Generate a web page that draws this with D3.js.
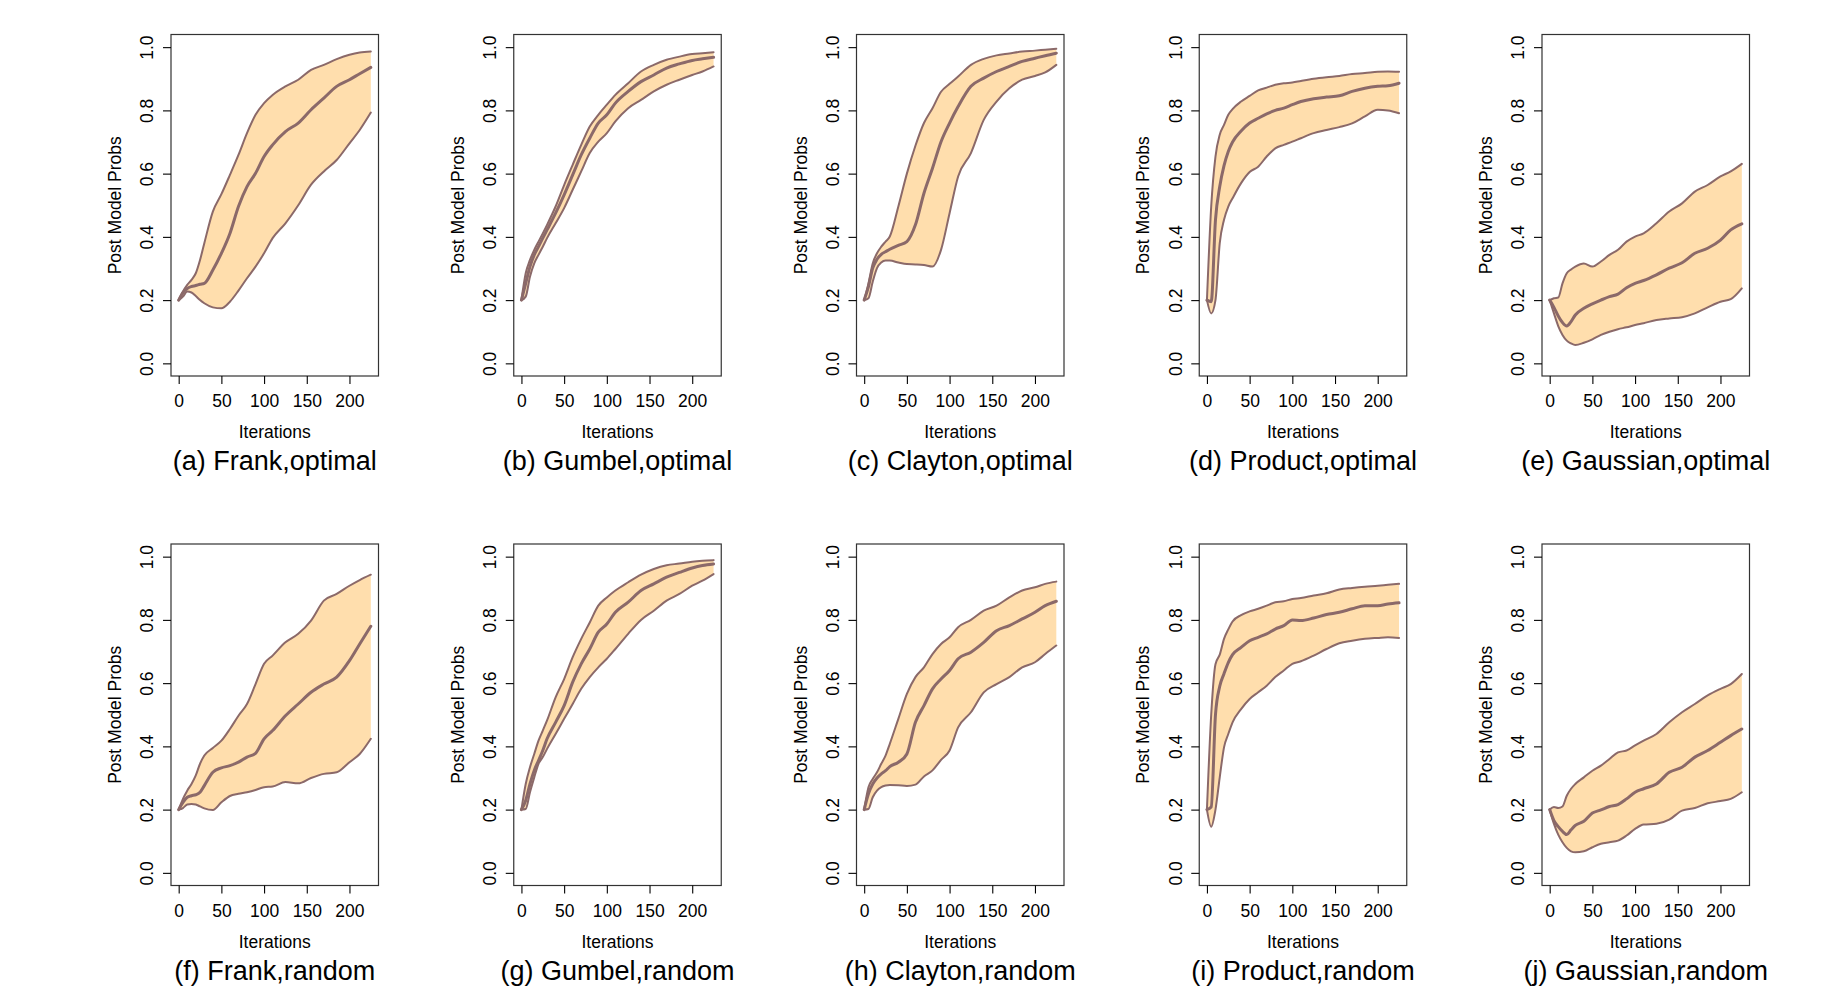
<!DOCTYPE html>
<html>
<head>
<meta charset="utf-8">
<script src="https://cdn.jsdelivr.net/npm/d3@7"></script>
<style>
  body { margin: 0; background: #fff; }
  text { font-family: "Liberation Sans", Arial, Helvetica, sans-serif; fill: #000; }
</style>
</head>
<body>
<script>
"use strict";
(function(){
  // iteration grid the values were read at
  const iterations = [0,5,10,15,20,25,30,40,50,60,70,80,90,100,110,125,140,155,170,185,200,212,225];
  const yTicks = [0, 0.2, 0.4, 0.6, 0.8, 1.0];
  const xTicks = [0, 50, 100, 150, 200];

  // (a) Frank, optimal
  const frankOptUp  = [0.2,0.227,0.248,0.264,0.285,0.327,0.38,0.48,0.535,0.596,0.659,0.728,0.786,0.823,0.849,0.876,0.897,0.928,0.944,0.962,0.976,0.983,0.986];
  const frankOptMed = [0.2,0.224,0.237,0.243,0.246,0.25,0.253,0.295,0.348,0.411,0.496,0.559,0.601,0.654,0.691,0.733,0.76,0.802,0.839,0.876,0.897,0.916,0.936];
  const frankOptLow = [0.2,0.211,0.227,0.224,0.213,0.2,0.19,0.177,0.174,0.195,0.23,0.269,0.306,0.348,0.396,0.443,0.5,0.565,0.607,0.643,0.696,0.738,0.793];
  // (b) Gumbel, optimal
  const gumbelOptUp  = [0.2,0.285,0.327,0.359,0.385,0.411,0.438,0.496,0.564,0.628,0.691,0.749,0.786,0.818,0.849,0.886,0.923,0.944,0.96,0.97,0.978,0.981,0.984];
  const gumbelOptMed = [0.2,0.253,0.306,0.343,0.369,0.396,0.422,0.475,0.533,0.596,0.659,0.712,0.76,0.786,0.823,0.86,0.891,0.912,0.934,0.947,0.958,0.963,0.968];
  const gumbelOptLow = [0.2,0.211,0.274,0.316,0.343,0.369,0.396,0.443,0.491,0.549,0.607,0.665,0.701,0.728,0.765,0.807,0.833,0.86,0.881,0.897,0.912,0.923,0.939];
  // (c) Clayton, optimal
  const claytonOptUp  = [0.2,0.253,0.316,0.348,0.369,0.385,0.401,0.496,0.6,0.688,0.76,0.807,0.859,0.884,0.907,0.944,0.963,0.974,0.98,0.986,0.989,0.992,0.995];
  const claytonOptMed = [0.2,0.243,0.301,0.329,0.345,0.353,0.361,0.373,0.385,0.438,0.538,0.617,0.701,0.76,0.812,0.876,0.902,0.923,0.939,0.955,0.965,0.973,0.981];
  const claytonOptLow = [0.2,0.206,0.258,0.301,0.319,0.325,0.325,0.319,0.314,0.313,0.311,0.306,0.359,0.475,0.591,0.665,0.77,0.828,0.87,0.897,0.909,0.92,0.944];
  // (d) Product, optimal
  const productOptUp  = [0.2,0.496,0.654,0.723,0.754,0.786,0.804,0.828,0.846,0.863,0.872,0.881,0.886,0.888,0.893,0.9,0.905,0.909,0.915,0.918,0.922,0.923,0.922];
  const productOptMed = [0.2,0.195,0.454,0.559,0.625,0.67,0.7,0.735,0.76,0.775,0.789,0.8,0.807,0.818,0.828,0.837,0.842,0.846,0.86,0.87,0.876,0.878,0.886];
  const productOptLow = [0.2,0.158,0.2,0.38,0.454,0.496,0.522,0.57,0.605,0.622,0.654,0.68,0.691,0.701,0.712,0.728,0.738,0.747,0.759,0.781,0.802,0.8,0.791];
  // (e) Gaussian, optimal
  const gaussOptUp  = [0.2,0.206,0.208,0.253,0.285,0.297,0.306,0.316,0.306,0.322,0.343,0.359,0.385,0.401,0.411,0.443,0.48,0.506,0.543,0.564,0.591,0.607,0.631];
  const gaussOptMed = [0.2,0.177,0.15,0.129,0.118,0.132,0.153,0.174,0.188,0.2,0.211,0.219,0.239,0.253,0.262,0.28,0.301,0.318,0.348,0.364,0.39,0.422,0.441];
  const gaussOptLow = [0.2,0.158,0.118,0.09,0.072,0.063,0.058,0.065,0.076,0.09,0.1,0.108,0.114,0.121,0.127,0.137,0.142,0.146,0.158,0.177,0.195,0.203,0.237];
  // (f) Frank, random
  const frankRndUp  = [0.2,0.234,0.26,0.281,0.308,0.345,0.371,0.395,0.418,0.455,0.497,0.534,0.597,0.661,0.687,0.729,0.756,0.798,0.861,0.882,0.908,0.926,0.943];
  const frankRndMed = [0.2,0.223,0.239,0.244,0.247,0.255,0.276,0.318,0.332,0.339,0.35,0.366,0.378,0.424,0.45,0.497,0.534,0.571,0.597,0.619,0.671,0.724,0.78];
  const frankRndLow = [0.2,0.205,0.216,0.218,0.216,0.21,0.204,0.199,0.223,0.243,0.25,0.255,0.262,0.271,0.273,0.287,0.283,0.3,0.313,0.318,0.35,0.376,0.424];
  // (g) Gumbel, random
  const gumbelRndUp  = [0.2,0.281,0.334,0.376,0.418,0.45,0.482,0.555,0.613,0.682,0.74,0.792,0.845,0.871,0.893,0.919,0.943,0.961,0.973,0.978,0.984,0.987,0.989];
  const gumbelRndMed = [0.2,0.229,0.281,0.324,0.355,0.387,0.424,0.476,0.529,0.603,0.661,0.708,0.761,0.787,0.824,0.856,0.893,0.914,0.935,0.95,0.964,0.972,0.977];
  const gumbelRndLow = [0.2,0.202,0.255,0.302,0.345,0.366,0.392,0.439,0.487,0.534,0.582,0.619,0.65,0.677,0.708,0.756,0.8,0.829,0.861,0.882,0.908,0.924,0.945];
  // (h) Clayton, random
  const claytonRndUp  = [0.2,0.271,0.297,0.318,0.345,0.371,0.408,0.487,0.566,0.619,0.65,0.692,0.724,0.745,0.777,0.8,0.829,0.845,0.871,0.893,0.903,0.914,0.921];
  const claytonRndMed = [0.2,0.25,0.281,0.3,0.313,0.323,0.336,0.35,0.376,0.476,0.529,0.582,0.613,0.64,0.677,0.698,0.729,0.766,0.782,0.803,0.824,0.845,0.859];
  const claytonRndLow = [0.2,0.202,0.239,0.26,0.271,0.276,0.278,0.277,0.275,0.279,0.305,0.324,0.357,0.387,0.46,0.508,0.571,0.597,0.619,0.65,0.666,0.692,0.719];
  // (i) Product, random
  const productRndUp  = [0.2,0.5,0.66,0.69,0.74,0.77,0.795,0.815,0.827,0.835,0.845,0.856,0.859,0.866,0.869,0.877,0.884,0.896,0.901,0.905,0.908,0.911,0.914];
  const productRndMed = [0.2,0.208,0.5,0.59,0.63,0.665,0.69,0.713,0.734,0.745,0.756,0.771,0.782,0.8,0.798,0.806,0.817,0.824,0.835,0.845,0.845,0.85,0.854];
  const productRndLow = [0.2,0.146,0.2,0.302,0.397,0.439,0.476,0.518,0.55,0.571,0.592,0.619,0.64,0.661,0.669,0.687,0.708,0.726,0.734,0.74,0.743,0.745,0.743];
  // (j) Gaussian, random
  const gaussRndUp  = [0.2,0.208,0.205,0.21,0.244,0.266,0.281,0.302,0.323,0.339,0.36,0.381,0.387,0.403,0.418,0.439,0.476,0.508,0.534,0.561,0.582,0.597,0.629];
  const gaussRndMed = [0.2,0.165,0.146,0.131,0.121,0.136,0.15,0.163,0.189,0.199,0.21,0.216,0.234,0.255,0.266,0.281,0.318,0.334,0.366,0.387,0.413,0.434,0.455];
  const gaussRndLow = [0.2,0.155,0.121,0.097,0.079,0.068,0.065,0.068,0.081,0.092,0.097,0.102,0.118,0.139,0.153,0.155,0.168,0.197,0.205,0.22,0.227,0.234,0.255];

  const captions = ["(a) Frank,optimal","(b) Gumbel,optimal","(c) Clayton,optimal","(d) Product,optimal","(e) Gaussian,optimal",
                    "(f) Frank,random","(g) Gumbel,random","(h) Clayton,random","(i) Product,random","(j) Gaussian,random"];

  const panels = [
    [frankOptLow, frankOptMed, frankOptUp],
    [gumbelOptLow, gumbelOptMed, gumbelOptUp],
    [claytonOptLow, claytonOptMed, claytonOptUp],
    [productOptLow, productOptMed, productOptUp],
    [gaussOptLow, gaussOptMed, gaussOptUp],
    [frankRndLow, frankRndMed, frankRndUp],
    [gumbelRndLow, gumbelRndMed, gumbelRndUp],
    [claytonRndLow, claytonRndMed, claytonRndUp],
    [productRndLow, productRndMed, productRndUp],
    [gaussRndLow, gaussRndMed, gaussRndUp]
  ].map((d, i) => ({caption: captions[i], low: d[0], med: d[1], up: d[2]}));

  // layout
  const measurements = {
    width: 1839,
    height: 991,
    firstLeft: 171,
    colStep: 342.75,
    firstTop: 34.5,
    rowStep: 509.5,
    boxW: 207.5,
    boxH: 341.5
  };
  const bandFill = "#FFDEAD";
  const lineColor = "#8B6969";

  const svgContainer = d3.select("body").append("svg")
      .attr("width", measurements.width)
      .attr("height", measurements.height);

  panels.forEach((p, k) => drawPanel(p, k % 5, Math.floor(k / 5)));

  function drawPanel(p, col, row) {
    const left = measurements.firstLeft + col * measurements.colStep;
    const top = measurements.firstTop + row * measurements.rowStep;
    const w = measurements.boxW, h = measurements.boxH;

    const g = svgContainer.append("g")
        .attr("transform", `translate(${left},${top})`);

    // R style 4% padding on both axes
    const scaleX = d3.scaleLinear().domain([-9, 234]).range([0, w]);
    const scaleY = d3.scaleLinear().domain([-0.04, 1.04]).range([h, 0]);

    const band = d3.area()
        .x(d => scaleX(d))
        .y0((d, i) => scaleY(p.low[i]))
        .y1((d, i) => scaleY(p.up[i]))
        .curve(d3.curveMonotoneX);

    g.append("path")
        .datum(iterations)
        .attr("d", band)
        .attr("fill", bandFill);

    const lineFor = vals => d3.line()
        .x(d => scaleX(d))
        .y((d, i) => scaleY(vals[i]))
        .curve(d3.curveMonotoneX);

    [[p.low, 2], [p.up, 2], [p.med, 3]].forEach(([vals, sw]) => {
      g.append("path")
          .datum(iterations)
          .attr("d", lineFor(vals))
          .attr("fill", "none")
          .attr("stroke", lineColor)
          .attr("stroke-width", sw)
          .attr("stroke-linejoin", "round")
          .attr("stroke-linecap", "round");
    });

    // frame
    g.append("rect")
        .attr("x", 0).attr("y", 0)
        .attr("width", w).attr("height", h)
        .attr("fill", "none")
        .attr("stroke", "#333")
        .attr("stroke-width", 1.2);

    // axes
    const yAxis = d3.axisLeft(scaleY)
        .tickValues(yTicks)
        .tickSize(8)
        .tickSizeOuter(0)
        .tickFormat(d3.format(".1f"));
    const gy = g.append("g").call(yAxis);
    gy.select(".domain").remove();
    gy.selectAll("line").attr("stroke", "#000").attr("stroke-width", 1.1);
    gy.selectAll("text")
        .attr("x", 0)
        .attr("dy", 0)
        .attr("transform", "translate(-17.7,0) rotate(-90)")
        .attr("text-anchor", "middle")
        .attr("fill", "#000")
        .style("font-size", "17.5px")
        .style("font-family", "'Liberation Sans', Arial, sans-serif");

    const xAxis = d3.axisBottom(scaleX)
        .tickValues(xTicks)
        .tickSize(8)
        .tickSizeOuter(0);
    const gx = g.append("g")
        .attr("transform", `translate(0,${h})`)
        .call(xAxis);
    gx.select(".domain").remove();
    gx.selectAll("line").attr("stroke", "#000").attr("stroke-width", 1.1);
    gx.selectAll("text")
        .attr("y", 31)
        .attr("dy", 0)
        .attr("fill", "#000")
        .style("font-size", "17.5px")
        .style("font-family", "'Liberation Sans', Arial, sans-serif");

    g.append("text")
        .attr("x", w / 2)
        .attr("y", h + 62)
        .attr("text-anchor", "middle")
        .style("font-size", "17.5px")
        .text("Iterations");

    g.append("text")
        .attr("transform", `translate(-50,${h / 2}) rotate(-90)`)
        .attr("text-anchor", "middle")
        .style("font-size", "17.5px")
        .text("Post Model Probs");

    g.append("text")
        .attr("x", w / 2)
        .attr("y", h + 94)
        .attr("text-anchor", "middle")
        .style("font-size", "27px")
        .text(p.caption);
  }
})();
</script>
</body>
</html>
